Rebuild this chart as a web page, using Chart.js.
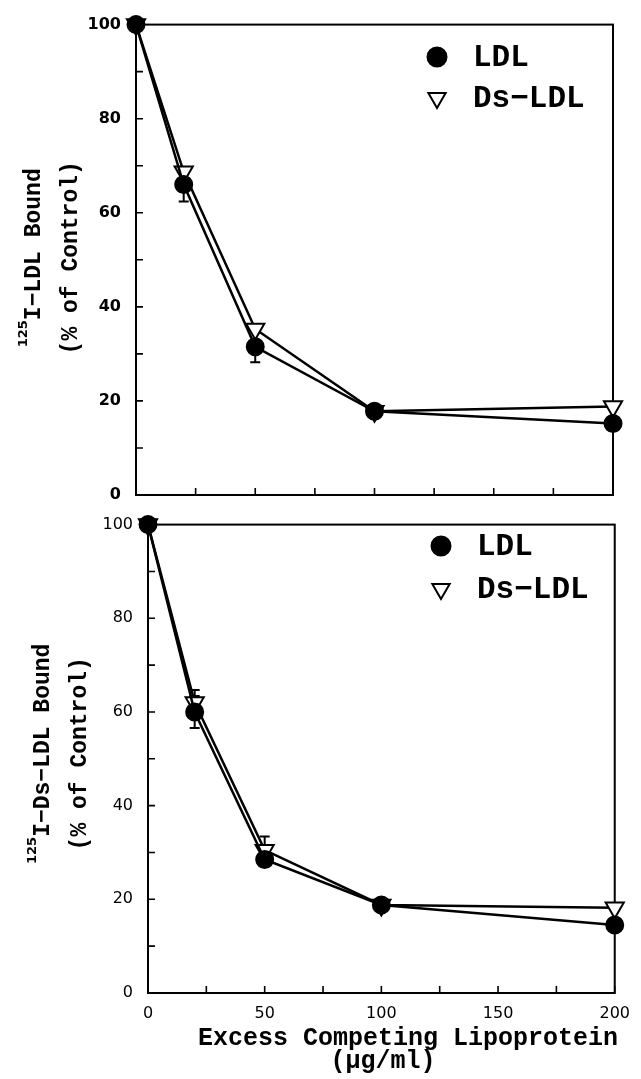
<!DOCTYPE html>
<html>
<head>
<meta charset="utf-8">
<script src="https://cdn.jsdelivr.net/npm/chart.js@4.4.1/dist/chart.umd.min.js"></script>
<style>
html, body { margin: 0; padding: 0; background: #fff; }
#wrap { position: relative; width: 641px; height: 1079px; }
canvas { position: absolute; left: 0; }
</style>
</head>
<body>
<div id="wrap">
  <canvas id="top" width="641" height="520" style="top:0"></canvas>
  <canvas id="bottom" width="641" height="579" style="top:500px"></canvas>
</div>
<script>
// excess competing lipoprotein, ug/ml
const xValues = [0, 20, 50, 100, 200];

// upper panel: 125I-LDL bound (% of control)
const ldlTop = [100, 66, 31.5, 17.8, 15.2];
const dsTop = [100, 68.7, 35.3, 17.8, 18.8];
const ldlTopErr = [0, 3.6, 3.3, 0, 0];
const dsTopErr = [0, 0, 0, 0, 0];

// lower panel: 125I-Ds-LDL bound (% of control)
const ldlBottom = [100, 60, 28.5, 18.8, 14.5];
const dsBottom = [100, 62, 30.5, 18.8, 18.2];
const ldlBottomErr = [0, 3.4, 0, 0, 0];
const dsBottomErr = [0, 2.7, 2.9, 0, 0];

const seriesNames = ["LDL", "Ds\u2212LDL"];

const MONO = '"Liberation Mono", "Courier New", monospace';
const SANS = '"DejaVu Sans", sans-serif';

const pts = (ys) => xValues.map((x, i) => ({ x: x, y: ys[i] }));

function dataset(name, ys, errs, circle) {
    return {
        label: name,
        data: pts(ys),
        errors: errs,
        borderColor: "#000",
        borderWidth: 2.5,
        pointStyle: circle ? "circle" : "triangle",
        pointRotation: circle ? 0 : 180,
        pointRadius: circle ? 8.5 : 10.5,
        pointBackgroundColor: circle ? "#000" : "#fff",
        pointBorderColor: "#000",
        pointBorderWidth: 2,
        clip: false,
        tension: 0
    };
}

////////////////////////////////////////////////////////////////////////////////////

const extras = {
    id: "extras",
    beforeDatasetsDraw(chart, args, o) {
        const ctx = chart.ctx, a = chart.chartArea;
        const xs = chart.scales.x, ys = chart.scales.y;
        ctx.save();
        ctx.strokeStyle = "#000";
        ctx.lineWidth = 2;
        ctx.strokeRect(a.left, a.top, a.right - a.left, a.bottom - a.top);

        // ticks point inward
        ctx.lineWidth = 1.6;
        ctx.beginPath();
        ys.ticks.forEach(t => {
            const p = ys.getPixelForValue(t.value);
            ctx.moveTo(a.left, p);
            ctx.lineTo(a.left + 7, p);
        });
        xs.ticks.forEach(t => {
            const p = xs.getPixelForValue(t.value);
            ctx.moveTo(p, a.bottom);
            ctx.lineTo(p, a.bottom - 7);
        });
        ctx.stroke();

        // error bars
        ctx.lineWidth = 2;
        chart.data.datasets.forEach(ds => {
            ds.data.forEach((pt, i) => {
                const e = ds.errors[i];
                if (!e) return;
                const px = xs.getPixelForValue(pt.x);
                const lo = ys.getPixelForValue(pt.y - e);
                const hi = ys.getPixelForValue(pt.y + e);
                ctx.beginPath();
                ctx.moveTo(px, lo); ctx.lineTo(px, hi);
                ctx.moveTo(px - 5, lo); ctx.lineTo(px + 5, lo);
                ctx.moveTo(px - 5, hi); ctx.lineTo(px + 5, hi);
                ctx.stroke();
            });
        });
        ctx.restore();
    },
    afterDraw(chart, args, o) {
        const ctx = chart.ctx, a = chart.chartArea;
        ctx.save();
        ctx.fillStyle = "#000";
        ctx.strokeStyle = "#000";

        // legend
        chart.data.datasets.forEach((ds, i) => {
            const y = o.legendY + i * o.legendGap;
            ctx.fillStyle = ds.pointBackgroundColor;
            ctx.lineWidth = 2;
            Chart.helpers.drawPoint(ctx, {
                pointStyle: ds.pointStyle,
                rotation: ds.pointRotation,
                radius: ds.pointStyle === "circle" ? 9.5 : 10,
                borderWidth: 2
            }, o.legendX, y);
            ctx.fillStyle = "#000";
            ctx.font = "bold 31px " + MONO;
            ctx.textAlign = "left";
            ctx.textBaseline = "middle";
            ctx.fillText(ds.label, o.legendX + 36, y + 1);
        });

        // y title, two lines, rotated
        const cy = (a.top + a.bottom) / 2 + o.yShift;
        ctx.save();
        ctx.translate(o.yTitleX1, cy);
        ctx.rotate(-Math.PI / 2);
        ctx.font = "bold 13px " + SANS;
        const ws = ctx.measureText(o.yTitle[0]).width;
        ctx.font = "bold 23px " + MONO;
        const wm = ctx.measureText(o.yTitle[1]).width;
        const x0 = -(ws + wm) / 2;
        ctx.textAlign = "left";
        ctx.textBaseline = "middle";
        ctx.font = "bold 13px " + SANS;
        ctx.fillText(o.yTitle[0], x0, -10);
        ctx.font = "bold 23px " + MONO;
        ctx.fillText(o.yTitle[1], x0 + ws, 0);
        ctx.restore();

        ctx.save();
        ctx.translate(o.yTitleX2, cy);
        ctx.rotate(-Math.PI / 2);
        ctx.font = "bold 23px " + MONO;
        ctx.textAlign = "center";
        ctx.textBaseline = "middle";
        ctx.fillText(o.yTitle[2], 0, 0);
        ctx.restore();

        // x title (lower panel only)
        if (o.xTitle) {
            ctx.font = "bold 25px " + MONO;
            ctx.textAlign = "center";
            ctx.textBaseline = "alphabetic";
            ctx.fillText(o.xTitle[0], o.xTitleX, o.xTitleY);
            ctx.fillText(o.xTitle[1], o.xTitleX2, o.xTitleY + 23);
        }
        ctx.restore();
    }
};

////////////////////////////////////////////////////////////////////////////////////

function makeChart(canvas, ldl, ds, ldlErr, dsErr, cfg) {
    return new Chart(canvas, {
        type: "line",
        data: {
            datasets: [
                dataset(seriesNames[0], ldl, ldlErr, true),
                dataset(seriesNames[1], ds, dsErr, false)
            ]
        },
        options: {
            responsive: false,
            animation: false,
            layout: { padding: cfg.padding },
            plugins: {
                legend: { display: false },
                tooltip: { enabled: false },
                extras: cfg.extras
            },
            scales: {
                x: {
                    type: "linear",
                    min: 0,
                    max: 200,
                    grid: { display: false, drawTicks: false },
                    border: { display: false },
                    ticks: {
                        stepSize: 25,
                        autoSkip: false,
                        maxRotation: 0,
                        padding: 11,
                        color: "#000",
                        font: { family: SANS, size: 16 },
                        callback: v => (cfg.xLabels && v % 50 === 0) ? v : ""
                    },
                    afterFit: s => { s.height = cfg.xHeight; }
                },
                y: {
                    min: 0,
                    max: 100,
                    grid: { display: false, drawTicks: false },
                    border: { display: false },
                    ticks: {
                        stepSize: 10,
                        autoSkip: false,
                        padding: 15,
                        color: "#000",
                        font: { family: SANS, size: 16, weight: cfg.yWeight },
                        callback: v => v % 20 === 0 ? v : ""
                    },
                    afterFit: s => { s.width = cfg.yWidth; }
                }
            }
        },
        plugins: [extras]
    });
}

const topChart = makeChart(document.querySelector("#top"), ldlTop, dsTop, ldlTopErr, dsTopErr, {
    padding: { left: 0, top: 22, right: 28, bottom: 0 },
    yWidth: 136,
    xHeight: 25,
    xLabels: false,
    yWeight: "bold",
    extras: {
        legendX: 437, legendY: 57, legendGap: 41,
        yTitle: ["125", "I\u2212LDL Bound", "(% of Control)"],
        yTitleX1: 34, yTitleX2: 71, yShift: -2
    }
});

const bottomChart = makeChart(document.querySelector("#bottom"), ldlBottom, dsBottom, ldlBottomErr, dsBottomErr, {
    padding: { left: 0, top: 17, right: 22, bottom: 0 },
    yWidth: 148,
    xHeight: 86,
    xLabels: true,
    yWeight: "normal",
    extras: {
        legendX: 441, legendY: 46, legendGap: 43,
        yTitle: ["125", "I\u2212Ds\u2212LDL Bound", "(% of Control)"],
        yTitleX1: 43, yTitleX2: 80, yShift: -5,
        xTitle: ["Excess Competing Lipoprotein", "(\u03bcg/ml)"],
        xTitleX: 408, xTitleY: 545, xTitleX2: 383
    }
});
</script>
</body>
</html>
